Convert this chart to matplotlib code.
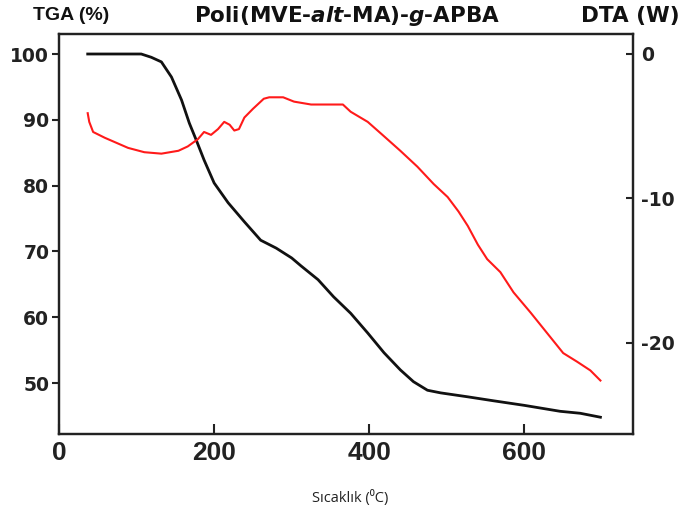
import matplotlib
matplotlib.use("Agg")
import matplotlib.pyplot as plt

# Thermogram data for Poli(MVE-alt-MA)-g-APBA
tga_temp = [37, 106, 119, 132, 145, 158, 168, 177, 187, 200, 218, 239, 260, 280,
            300, 312, 334, 354, 376, 398, 419, 440, 457, 475, 492, 527, 560, 600,
            646, 672, 698]
tga_mass = [100, 100, 99.5, 98.8, 96.5, 93.0, 89.5, 86.9, 83.9, 80.4, 77.4, 74.5,
            71.7, 70.5, 69.0, 67.8, 65.7, 63.1, 60.6, 57.6, 54.6, 52.0, 50.2, 48.9,
            48.5, 47.9, 47.3, 46.6, 45.7, 45.4, 44.8]

dta_temp = [37, 39, 44, 59, 89, 110, 132, 154, 166, 179, 187, 196, 205, 213, 220,
            226, 232, 239, 250, 264, 271, 289, 303, 325, 366, 376, 398, 417, 440,
            462, 483, 501, 515, 527, 540, 552, 569, 586, 608, 629, 650, 668, 685, 698]
dta_signal = [-4.1, -4.7, -5.4, -5.8, -6.5, -6.8, -6.9, -6.7, -6.4, -5.9, -5.4, -5.6,
              -5.2, -4.7, -4.9, -5.3, -5.2, -4.4, -3.8, -3.1, -3.0, -3.0, -3.3, -3.5,
              -3.5, -4.0, -4.7, -5.6, -6.7, -7.8, -9.0, -9.9, -10.9, -11.9, -13.2,
              -14.2, -15.1, -16.5, -17.9, -19.3, -20.7, -21.3, -21.9, -22.6]

x_ticks = [0, 200, 400, 600]
tga_ticks = [50, 60, 70, 80, 90, 100]
dta_ticks = [-20, -10, 0]

W, H = 682, 526
fig = plt.figure(figsize=(W / 100, H / 100), dpi=100)
fig.patch.set_facecolor("white")

left, right, top, bottom = 59, 633, 34, 434
ax = fig.add_axes([left / W, 1 - bottom / H, (right - left) / W, (bottom - top) / H])
ax2 = ax.twinx()

ax.plot(tga_temp, tga_mass, color="#111111", lw=2.0)
ax2.plot(dta_temp, dta_signal, color="#ff1a1a", lw=1.5)

ax.set_xlim(0, 740)
ax.set_ylim(42.25, 103.04)
ax2.set_ylim(-26.3, 1.38)

for a in (ax, ax2):
    for s in a.spines.values():
        s.set_linewidth(1.6)
        s.set_color("#222222")

ax.set_xticks(x_ticks)
ax.set_xticklabels([str(v) for v in x_ticks], fontfamily="Liberation Sans",
                   fontweight="bold", fontsize=19)
ax.tick_params(axis="x", direction="in", length=7, width=1.5, pad=5, colors="#222222")

ax.set_yticks(tga_ticks)
ax.set_yticklabels([str(v) for v in tga_ticks], fontfamily="DejaVu Sans",
                   fontweight="bold", fontsize=13.5)
ax.tick_params(axis="y", direction="out", length=5, width=1.5, pad=2, colors="#222222")

ax2.set_yticks(dta_ticks)
ax2.set_yticklabels([str(v) for v in dta_ticks], fontfamily="DejaVu Sans",
                    fontweight="bold", fontsize=13.5)
ax2.tick_params(axis="y", direction="in", length=5, width=1.5, pad=6, colors="#222222")

plt.rcParams["mathtext.fontset"] = "custom"
plt.rcParams["mathtext.rm"] = "DejaVu Sans:bold"
plt.rcParams["mathtext.it"] = "DejaVu Sans:italic:bold"

fig.text(33 / W, 1 - 16 / H, "TGA (%)", fontfamily="Liberation Sans",
         fontweight="bold", fontsize=14, ha="left", va="center", color="#111111")
fig.text(347 / W, 1 - 16 / H, r"Poli(MVE-$\mathit{alt}$-MA)-$\mathit{g}$-APBA",
         fontfamily="DejaVu Sans", fontweight="bold", fontsize=15.5,
         ha="center", va="center", color="#111111")
fig.text(680 / W, 1 - 16 / H, "DTA (W)", fontfamily="DejaVu Sans",
         fontweight="bold", fontsize=15.5, ha="right", va="center", color="#111111")

fig.text(350 / W, 1 - 498 / H, "Sıcaklık (⁰C)", fontfamily=["Open Sans", "DejaVu Sans"],
         fontsize=10.5, ha="center", va="center", color="#222222")

fig.savefig("out.png", dpi=100, facecolor="white")
